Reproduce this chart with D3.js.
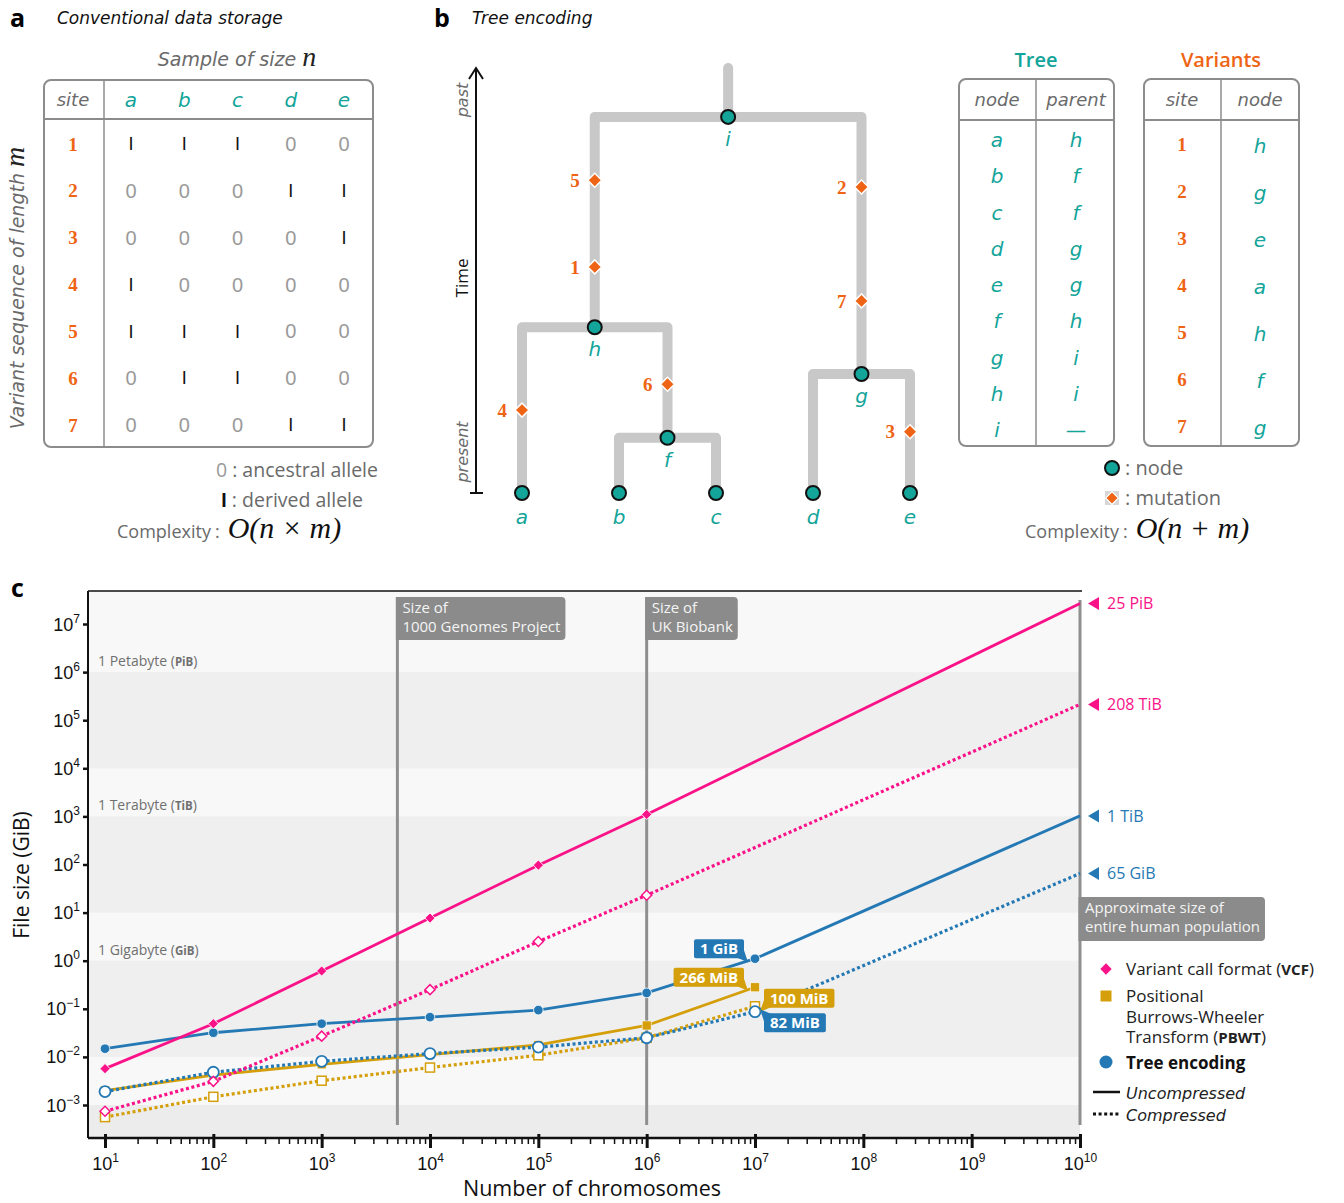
<!DOCTYPE html>
<html><head><meta charset="utf-8">
<script src="https://cdn.jsdelivr.net/npm/d3@7"></script>
<style>
body{margin:0;background:#fff;}
svg{display:block;font-family:"Open Sans","Liberation Sans",Arial,sans-serif;}
.it{font-family:"DejaVu Sans","Liberation Sans",sans-serif;font-style:italic;}
</style></head><body>
<svg id="fig" width="1344" height="1203"></svg>
<script>
// ================= DATA =================
// Panel a: genotype matrix
const samples = ["a","b","c","d","e"];
const sites = [1,2,3,4,5,6,7];
const genotypes = [
  [1,1,1,0,0],
  [0,0,0,1,1],
  [0,0,0,0,1],
  [1,0,0,0,0],
  [1,1,1,0,0],
  [0,1,1,0,0],
  [0,0,0,1,1]
];
// Panel b: tree and variants tables
const treeNodes   = ["a","b","c","d","e","f","g","h","i"];
const treeParents = ["h","f","f","g","g","h","i","i","—"];
const nodeTimes   = [0,0,0,0,0,1.3,2.8,3.9,8.85];
const rootStemTop = 10;
const variantSites = [1,2,3,4,5,6,7];
const variantNodes = ["h","g","e","a","h","f","g"];
const mutationTimes = [5.32,7.2,1.44,1.95,7.36,2.56,4.52];
// Panel c: file sizes (GiB) vs number of chromosomes
const chromosomes = [1e1,1e2,1e3,1e4,1e5,1e6,1e7];
const vcfUncompressed  = [0.0057,0.049,0.61,7.7,97,1100];
const vcfCompressed    = [0.00074,0.0031,0.027,0.25,2.5,23];
const pbwtUncompressed = [0.0020,0.0042,0.0070,0.0112,0.0177,0.045,0.28];
const pbwtCompressed   = [0.00056,0.00148,0.0032,0.0060,0.0108,0.025,0.113];
const treeUncompressed = [0.0148,0.0318,0.049,0.067,0.094,0.214,1.1];
const treeCompressed   = [0.0019,0.0048,0.0081,0.0117,0.016,0.025,0.087];
const populationSize = 1e10;
const vcfUncompressedPop = 2.68e7;   // 25 PiB
const vcfCompressedPop   = 2.13e5;   // 208 TiB
const treeUncompressedPop = 1024;    // 1 TiB
const treeCompressedPop  = 65;       // 65 GiB
const endLabels = ["25 PiB","208 TiB","1 TiB","65 GiB"];
const calloutLabels = ["1 GiB","266 MiB","100 MiB","82 MiB"];
const xTickExponents = [1,2,3,4,5,6,7,8,9,10];
const yTickExponents = [-3,-2,-1,0,1,2,3,4,5,6,7];
const unitLines = [1e6,1e3,1e0];
const unitNames = ["1 Petabyte","1 Terabyte","1 Gigabyte"];
const unitAbbr  = ["PiB","TiB","GiB"];
const refSizes  = [5000,1e6];
const refLabels = [["Size of","1000 Genomes Project"],["Size of","UK Biobank"]];

// ================= STYLE =================
const TEAL="#13a49a", ORANGE="#ee6414", PINK="#fa1289", BLUE="#2479b5", GOLD="#d49f0a";
const BOXGRAY="#8b8b8b", TXT="#6a6a6a";
const SERIF='"Liberation Serif","DejaVu Serif",serif';
const ARIAL='"Liberation Sans",Arial,sans-serif';
const svg = d3.select("#fig");

function diamondPath(s){ return d3.symbol(d3.symbolSquare, s)(); }

// ================= PANEL A =================
const pa = svg.append("g");
pa.append("text").attr("x",10).attr("y",27).attr("font-size",25).attr("font-weight","bold").text("a");
pa.append("text").attr("class","it").attr("x",57).attr("y",24).attr("font-size",17).attr("fill","#111").text("Conventional data storage");

const colX = d3.scalePoint().domain(samples).range([131,344]);
const siteX = 73;
const rowY = d3.scalePoint().domain(sites).range([144,425]);

const st = pa.append("text").attr("x",237).attr("y",60).attr("dy","0.35em").attr("text-anchor","middle");
st.append("tspan").attr("class","it").attr("font-size",19).attr("fill",TXT).text("Sample of size ");
st.append("tspan").attr("font-size",28).attr("font-style","italic").attr("font-family",SERIF).attr("fill","#222").text("n");

const vt = pa.append("text").attr("transform","translate(18,288) rotate(-90)").attr("dy","0.35em").attr("text-anchor","middle");
vt.append("tspan").attr("class","it").attr("font-size",19).attr("fill",TXT).text("Variant sequence of length ");
vt.append("tspan").attr("font-size",28).attr("font-style","italic").attr("font-family",SERIF).attr("fill","#222").text("m");

pa.append("rect").attr("x",44).attr("y",80).attr("width",329).attr("height",367).attr("rx",7)
  .attr("fill","none").attr("stroke","#8c8c8c").attr("stroke-width",2);
pa.append("line").attr("x1",44).attr("x2",373).attr("y1",119).attr("y2",119).attr("stroke","#8c8c8c").attr("stroke-width",2);
pa.append("line").attr("x1",104).attr("x2",104).attr("y1",80).attr("y2",447).attr("stroke","#8c8c8c").attr("stroke-width",1.5);
pa.append("text").attr("class","it").attr("x",siteX).attr("y",100).attr("dy","0.35em").attr("text-anchor","middle")
  .attr("font-size",18).attr("fill",TXT).text("site");
pa.selectAll(".hdr").data(samples).join("text").attr("class","it").attr("x",d=>colX(d)).attr("y",100).attr("dy","0.35em")
  .attr("text-anchor","middle").attr("font-size",20).attr("fill",TEAL).text(d=>d);
pa.selectAll(".sitenum").data(sites).join("text").attr("x",siteX).attr("y",d=>rowY(d)).attr("dy","0.35em")
  .attr("text-anchor","middle").attr("font-size",19).attr("font-weight","bold").attr("font-family",SERIF)
  .attr("fill",ORANGE).text(d=>d);
genotypes.forEach((row,i)=>{
  pa.selectAll(".g"+i).data(row).join("text").attr("x",(d,j)=>colX(samples[j])).attr("y",rowY(sites[i])).attr("dy","0.35em")
    .attr("text-anchor","middle").attr("font-size",d=>d?18:20).attr("font-family",ARIAL)
    .attr("fill",d=>d?"#111":"#9a9a9a").text(d=>d?"I":"0");
});
const l1 = pa.append("text").attr("x",378).attr("y",470).attr("dy","0.35em").attr("text-anchor","end").attr("font-size",19.5);
l1.append("tspan").attr("fill","#9a9a9a").text("0");
l1.append("tspan").attr("fill",TXT).text(" : ancestral allele");
const l2 = pa.append("text").attr("x",363).attr("y",500).attr("dy","0.35em").attr("text-anchor","end").attr("font-size",19.5);
l2.append("tspan").attr("fill","#111").attr("font-weight","bold").attr("font-family",ARIAL).text("I");
l2.append("tspan").attr("fill",TXT).text(" : derived allele");
const c1 = pa.append("text").attr("x",117).attr("y",532).attr("dy","0.35em").attr("font-size",18);
c1.append("tspan").attr("fill",TXT).text("Complexity");
c1.append("tspan").attr("fill",TXT).attr("dx",4).text(":");
c1.append("tspan").attr("dx",8).attr("font-family",SERIF).attr("font-size",30).attr("font-style","italic").attr("fill","#111").text("O(n × m)");

// ================= PANEL B =================
const pb = svg.append("g");
pb.append("text").attr("x",434).attr("y",27).attr("font-size",25).attr("font-weight","bold").text("b");
pb.append("text").attr("class","it").attr("x",472).attr("y",24).attr("font-size",17).attr("fill","#111").text("Tree encoding");

const leafX = d3.scalePoint().domain(samples).range([522,910]);
const tY = d3.scaleLinear().domain([0,rootStemTop]).range([493,68]);

// time arrow
pb.append("line").attr("x1",476).attr("x2",476).attr("y1",tY(0)).attr("y2",tY(rootStemTop)).attr("stroke","#111").attr("stroke-width",2);
pb.append("path").attr("d",`M469,${tY(rootStemTop)+11} L476,${tY(rootStemTop)} L483,${tY(rootStemTop)+11}`)
  .attr("fill","none").attr("stroke","#111").attr("stroke-width",2);
pb.append("line").attr("x1",470).attr("x2",483).attr("y1",tY(0)).attr("y2",tY(0)).attr("stroke","#111").attr("stroke-width",2);
[["past",100,TXT,true],["Time",278,"#111",false],["present",452,TXT,true]].forEach(([t,yy,c,s])=>{
  pb.append("text").attr("class",s?"it":null).attr("transform",`translate(462,${yy}) rotate(-90)`).attr("dy","0.35em").attr("text-anchor","middle")
    .attr("font-size",s?16:17).attr("fill",c).text(t);
});

// compute node positions
const pos = {};
treeNodes.forEach((n,i)=>{ pos[n] = {x: samples.includes(n)?leafX(n):null, y: tY(nodeTimes[i])}; });
const order = treeNodes.map((n,i)=>i).filter(i=>!samples.includes(treeNodes[i])).sort((a,b)=>nodeTimes[a]-nodeTimes[b]);
const children = {};
treeNodes.forEach((n,i)=>{ const p=treeParents[i]; if(pos[p]){ (children[p]=children[p]||[]).push(n);} });
order.forEach(i=>{ const n=treeNodes[i]; pos[n].x = d3.mean(children[n],c=>pos[c].x); });

const edgeG = pb.append("g").attr("fill","none").attr("stroke","#c8c8c8").attr("stroke-width",10)
  .attr("stroke-linejoin","round").attr("stroke-linecap","round");
Object.keys(children).forEach(p=>{
  const cs = children[p].slice().sort((a,b)=>pos[a].x-pos[b].x);
  const A=pos[cs[0]], B=pos[cs[1]], P=pos[p];
  edgeG.append("path").attr("d",`M${A.x},${A.y} L${A.x},${P.y} L${B.x},${P.y} L${B.x},${B.y}`);
});
const rootName = treeNodes[treeParents.indexOf("—")];
edgeG.append("path").attr("d",`M${pos[rootName].x},${pos[rootName].y} L${pos[rootName].x},${tY(rootStemTop)}`);

// mutations
variantSites.forEach((s,k)=>{
  const nx = pos[variantNodes[k]].x, my = tY(mutationTimes[k]);
  pb.append("path").attr("d",diamondPath(98)).attr("transform",`translate(${nx},${my}) rotate(45)`)
    .attr("fill",ORANGE).attr("stroke","#fff").attr("stroke-width",1.5);
  pb.append("text").attr("x",nx-15).attr("y",my).attr("dy","0.35em").attr("text-anchor","end")
    .attr("font-size",19).attr("font-weight","bold").attr("font-family",SERIF).attr("fill",ORANGE).text(s);
});
// nodes
treeNodes.forEach(n=>{
  pb.append("circle").attr("cx",pos[n].x).attr("cy",pos[n].y).attr("r",7).attr("fill",TEAL).attr("stroke","#111").attr("stroke-width",2);
  const isLeaf = samples.includes(n);
  pb.append("text").attr("class","it").attr("x",pos[n].x).attr("y",pos[n].y+(isLeaf?24:22)).attr("dy","0.35em").attr("text-anchor","middle")
    .attr("font-size",20).attr("fill",TEAL).text(n);
});

// tables
function tableFrame(g,x0,w,div){
  g.append("rect").attr("x",x0).attr("y",79).attr("width",w).attr("height",367).attr("rx",7)
    .attr("fill","none").attr("stroke","#8c8c8c").attr("stroke-width",2);
  g.append("line").attr("x1",x0).attr("x2",x0+w).attr("y1",120).attr("y2",120).attr("stroke","#8c8c8c").attr("stroke-width",2);
  g.append("line").attr("x1",div).attr("x2",div).attr("y1",79).attr("y2",446).attr("stroke","#8c8c8c").attr("stroke-width",1.5);
}
tableFrame(pb,959,155,1036);
tableFrame(pb,1144,155,1221);
pb.append("text").attr("x",1036).attr("y",60).attr("dy","0.35em").attr("text-anchor","middle").attr("font-size",20).attr("font-weight",600).attr("fill",TEAL).text("Tree");
pb.append("text").attr("x",1221).attr("y",60).attr("dy","0.35em").attr("text-anchor","middle").attr("font-size",20).attr("font-weight",600).attr("fill",ORANGE).text("Variants");
[["node",997],["parent",1076],["site",1182],["node",1260]].forEach(([t,xx])=>{
  pb.append("text").attr("class","it").attr("x",xx).attr("y",100).attr("dy","0.35em").attr("text-anchor","middle")
    .attr("font-size",18).attr("fill",TXT).text(t);
});
const rowT = d3.scalePoint().domain(treeNodes).range([140,430]);
treeNodes.forEach((n,i)=>{
  pb.append("text").attr("class","it").attr("x",997).attr("y",rowT(n)).attr("dy","0.35em").attr("text-anchor","middle")
    .attr("font-size",20).attr("fill",TEAL).text(n);
  pb.append("text").attr("class",treeParents[i]==="—"?null:"it").attr("x",1076).attr("y",rowT(n)).attr("dy","0.35em").attr("text-anchor","middle")
    .attr("font-size",20).attr("fill",TEAL).text(treeParents[i]);
});
const rowV = d3.scalePoint().domain(variantSites).range([144,426]);
variantSites.forEach((s,k)=>{
  pb.append("text").attr("x",1182).attr("y",rowV(s)).attr("dy","0.35em").attr("text-anchor","middle")
    .attr("font-size",19).attr("font-weight","bold").attr("font-family",SERIF).attr("fill",ORANGE).text(s);
  pb.append("text").attr("class","it").attr("x",1260).attr("y",rowV(s)+2).attr("dy","0.35em").attr("text-anchor","middle")
    .attr("font-size",20).attr("fill",TEAL).text(variantNodes[k]);
});
// legend b
pb.append("circle").attr("cx",1112).attr("cy",468).attr("r",7).attr("fill",TEAL).attr("stroke","#111").attr("stroke-width",2);
pb.append("text").attr("x",1125).attr("y",468).attr("dy","0.35em").attr("font-size",20).attr("fill",TXT).text(": node");
pb.append("rect").attr("x",1105).attr("y",491).attr("width",14).attr("height",14).attr("fill","#d6d6d6");
pb.append("path").attr("d",diamondPath(80)).attr("transform","translate(1112,498) rotate(45)").attr("fill",ORANGE).attr("stroke","#fff").attr("stroke-width",1.2);
pb.append("text").attr("x",1125).attr("y",498).attr("dy","0.35em").attr("font-size",20).attr("fill",TXT).text(": mutation");
const c2 = pb.append("text").attr("x",1025).attr("y",532).attr("dy","0.35em").attr("font-size",18);
c2.append("tspan").attr("fill",TXT).text("Complexity");
c2.append("tspan").attr("fill",TXT).attr("dx",4).text(":");
c2.append("tspan").attr("dx",8).attr("font-family",SERIF).attr("font-size",30).attr("font-style","italic").attr("fill","#111").text("O(n + m)");

// ================= PANEL C =================
const X0=88, X1=1080, Y0=591, Y1=1138;
const x = d3.scaleLog().domain([1e1,1e10]).range([105,1080]);
const y = d3.scaleLog().domain([1e-3,1e7]).range([1105,624]);
const pc = svg.append("g");
pc.append("text").attr("x",11).attr("y",597).attr("font-size",25).attr("font-weight","bold").text("c");

// background bands
pc.append("rect").attr("x",X0).attr("y",Y0).attr("width",X1-X0).attr("height",Y1-Y0).attr("fill","#f8f8f8");
const darkBands = [[1e4,1e6],[1e1,1e3],[1e-2,1e0]];
darkBands.forEach(([lo,hi])=>{
  pc.append("rect").attr("x",X0).attr("y",y(hi)).attr("width",X1-X0).attr("height",y(lo)-y(hi)).attr("fill","#efefef");
});
pc.append("rect").attr("x",X0).attr("y",y(1e-3)).attr("width",X1-X0).attr("height",Y1-y(1e-3)).attr("fill","#ececec");

// unit labels
unitLines.forEach((v,i)=>{
  const t = pc.append("text").attr("x",98).attr("y",y(v)-6).attr("font-size",14).attr("fill","#707070");
  t.append("tspan").text(unitNames[i]+" (");
  t.append("tspan").attr("font-size",11.5).attr("font-weight","bold").text(unitAbbr[i]);
  t.append("tspan").text(")");
});

// reference lines with labels
function refLine(n, lines, boxY, boxH){
  const xx = x(n);
  pc.append("line").attr("x1",xx).attr("x2",xx).attr("y1",boxY).attr("y2",1125).attr("stroke","#8f8f8f").attr("stroke-width",3);
  const g = pc.append("g");
  const rect = g.append("path");
  const texts = lines.map((l,i)=>g.append("text").attr("x",xx+5).attr("y",boxY+14+i*19).attr("dy","0.1em")
    .attr("font-size",15).attr("fill","#f4f4f4").text(l));
  const w = d3.max(texts,t=>t.node().getComputedTextLength())+10;
  const r=4;
  rect.attr("d",`M${xx-1.5},${boxY} H${xx+w-r} Q${xx+w},${boxY} ${xx+w},${boxY+r} V${boxY+boxH-r} Q${xx+w},${boxY+boxH} ${xx+w-r},${boxY+boxH} H${xx-1.5} Z`)
    .attr("fill",BOXGRAY);
}
refSizes.forEach((n,i)=>refLine(n, refLabels[i], 597, 43));
refLine(populationSize, ["Approximate size of","entire human population"], 897, 44);
pc.append("line").attr("x1",x(populationSize)).attr("x2",x(populationSize)).attr("y1",600).attr("y2",897).attr("stroke","#8f8f8f").attr("stroke-width",3);

// axes
const xMajor = xTickExponents.map(k=>Math.pow(10,k));
const xMinor = [];
xTickExponents.slice(0,-1).forEach(k=>{ for(let m=2;m<=9;m++) xMinor.push(m*Math.pow(10,k)); });
const gxMinor = pc.append("g").attr("transform",`translate(0,${Y1})`)
  .call(d3.axisBottom(x).tickValues(xMinor).tickSize(6).tickFormat(""));
gxMinor.select(".domain").remove();
gxMinor.selectAll(".tick line").attr("stroke","#111").attr("stroke-width",1.5);
const gx = pc.append("g").attr("transform",`translate(0,${Y1})`)
  .call(d3.axisBottom(x).tickValues(xMajor).tickSize(10).tickFormat(""));
gx.select(".domain").remove();
gx.selectAll(".tick line").attr("stroke","#111").attr("stroke-width",3).attr("y1",-4);
gx.selectAll(".tick").each(function(d){
  const e = Math.round(Math.log10(d));
  const t = d3.select(this).append("text").attr("y",32).attr("fill","#111").attr("font-size",18)
    .attr("font-family",ARIAL).attr("text-anchor","middle");
  t.append("tspan").text("10");
  t.append("tspan").attr("dy",-8).attr("font-size",12).text(e);
});
const yMajor = yTickExponents.map(k=>Math.pow(10,k));
const gy = pc.append("g").attr("transform",`translate(${X0},0)`)
  .call(d3.axisLeft(y).tickValues(yMajor).tickSize(5).tickFormat(""));
gy.select(".domain").remove();
gy.selectAll(".tick line").attr("stroke","#111").attr("stroke-width",2.5);
gy.selectAll(".tick").each(function(d){
  const e = Math.round(Math.log10(d));
  const t = d3.select(this).append("text").attr("x",-8).attr("y",6).attr("fill","#111").attr("font-size",18)
    .attr("font-family",ARIAL).attr("text-anchor","end");
  t.append("tspan").text("10");
  t.append("tspan").attr("dy",-8).attr("font-size",12).text(String(e).replace("-","−"));
});
// frame
pc.append("line").attr("x1",X0).attr("x2",X1+2).attr("y1",Y0).attr("y2",Y0).attr("stroke","#111").attr("stroke-width",1.5);
pc.append("line").attr("x1",X0).attr("x2",X0).attr("y1",Y0).attr("y2",Y1).attr("stroke","#111").attr("stroke-width",2);
pc.append("line").attr("x1",X0).attr("x2",X1+1).attr("y1",Y1).attr("y2",Y1).attr("stroke","#111").attr("stroke-width",2.5);

pc.append("text").attr("transform","translate(22,875) rotate(-90)").attr("dy","0.35em").attr("text-anchor","middle")
  .attr("font-size",21).attr("fill","#111").text("File size (GiB)");
pc.append("text").attr("x",592).attr("y",1196).attr("text-anchor","middle").attr("font-size",21.5).attr("fill","#111").text("Number of chromosomes");

// series
const series = [
  {vals:pbwtCompressed, ext:null, color:GOLD, comp:true, mk:"square"},
  {vals:pbwtUncompressed, ext:null, color:GOLD, comp:false, mk:"square"},
  {vals:treeCompressed, ext:treeCompressedPop, color:BLUE, comp:true, mk:"circle"},
  {vals:treeUncompressed, ext:treeUncompressedPop, color:BLUE, comp:false, mk:"circle"},
  {vals:vcfCompressed, ext:vcfCompressedPop, color:PINK, comp:true, mk:"diamond"},
  {vals:vcfUncompressed, ext:vcfUncompressedPop, color:PINK, comp:false, mk:"diamond"}
];
const line = d3.line().x(d=>x(d[0])).y(d=>y(d[1]));
series.forEach(s=>{
  const pts = s.vals.map((v,i)=>[chromosomes[i],v]);
  const all = s.ext!=null ? pts.concat([[populationSize,s.ext]]) : pts;
  pc.append("path").attr("d",line(all)).attr("fill","none").attr("stroke",s.color)
    .attr("stroke-width",s.comp?3.2:2.8).attr("stroke-dasharray",s.comp?"3,2.6":null);
});
series.forEach(s=>{
  s.vals.forEach((v,i)=>{
    const cx=x(chromosomes[i]), cy=y(v);
    const fill = s.comp ? "#fff" : s.color;
    if(s.mk==="circle"){
      pc.append("circle").attr("cx",cx).attr("cy",cy).attr("r",s.comp?5.5:4.8).attr("fill",fill)
        .attr("stroke",s.comp?s.color:"#fff").attr("stroke-width",s.comp?1.8:0.8);
    } else if(s.mk==="square"){
      pc.append("rect").attr("x",cx-4.5).attr("y",cy-4.5).attr("width",9).attr("height",9).attr("fill",fill)
        .attr("stroke",s.comp?s.color:"#fff").attr("stroke-width",s.comp?1.5:0.6);
    } else {
      pc.append("path").attr("d",diamondPath(s.comp?50:52)).attr("transform",`translate(${cx},${cy}) rotate(45)`)
        .attr("fill",fill).attr("stroke",s.comp?s.color:"#fff").attr("stroke-width",s.comp?1.5:0.8);
    }
  });
});

// callouts at 10^7
const last = chromosomes.length-1;
const callouts = [
  {text:calloutLabels[0], color:BLUE, v:treeUncompressed[last], side:"left", off:-10},
  {text:calloutLabels[1], color:GOLD, v:pbwtUncompressed[last], side:"left", off:-10},
  {text:calloutLabels[2], color:GOLD, v:pbwtCompressed[last], side:"right", off:-8},
  {text:calloutLabels[3], color:BLUE, v:treeCompressed[last], side:"right", off:11}
];
callouts.forEach(c=>{
  const px = x(chromosomes[last]), py = y(c.v);
  const g = pc.append("g");
  const bg = g.append("rect");
  const tail = g.append("path");
  const t = g.append("text").attr("font-size",15).attr("font-weight","bold").attr("fill","#fff").attr("text-anchor","middle").text(c.text);
  const w = t.node().getComputedTextLength()+12, h=19;
  const cy = py + c.off;
  const bx = c.side==="left" ? px-11-w : px+9;
  bg.attr("x",bx).attr("y",cy-h/2).attr("width",w).attr("height",h).attr("rx",2).attr("fill",c.color);
  t.attr("x",bx+w/2).attr("y",cy).attr("dy","0.36em");
  let d;
  if(c.side==="left") d = `M${bx+w-8},${cy+h/2-1} L${bx+w},${cy+h/2-8} L${bx+w+4},${cy+h/2+4} Z`;
  else if(c.off<0) d = `M${bx},${cy+h/2-8} L${bx+8},${cy+h/2-1} L${bx-4},${cy+h/2+4} Z`;
  else d = `M${bx},${cy-h/2+8} L${bx+8},${cy-h/2+1} L${bx-4},${cy-h/2-4} Z`;
  tail.attr("d",d).attr("fill",c.color);
});

// end labels at population size
const ends = [
  {v:vcfUncompressedPop, color:PINK},{v:vcfCompressedPop, color:PINK},
  {v:treeUncompressedPop, color:BLUE},{v:treeCompressedPop, color:BLUE}
];
ends.forEach((e,i)=>{
  const yy = y(e.v), xx = x(populationSize);
  pc.append("path").attr("d",`M${xx+8},${yy} L${xx+19},${yy-6.5} L${xx+19},${yy+6.5} Z`).attr("fill",e.color);
  pc.append("text").attr("x",xx+27).attr("y",yy).attr("dy","0.36em").attr("font-size",16).attr("fill",e.color).text(endLabels[i]);
});

// legend
const LX=1106, TX=1126;
pc.append("path").attr("d",diamondPath(64)).attr("transform","translate(1106,969) rotate(45)").attr("fill",PINK);
const lt1 = pc.append("text").attr("x",TX).attr("y",969).attr("dy","0.36em").attr("font-size",17).attr("fill","#222");
lt1.append("tspan").text("Variant call format (");
lt1.append("tspan").attr("font-weight","bold").attr("font-size",15).text("VCF");
lt1.append("tspan").text(")");
pc.append("rect").attr("x",LX-5.5).attr("y",990.5).attr("width",11).attr("height",11).attr("fill",GOLD);
pc.append("text").attr("x",TX).attr("y",996).attr("dy","0.36em").attr("font-size",17).attr("fill","#222").text("Positional");
pc.append("text").attr("x",TX).attr("y",1016.5).attr("dy","0.36em").attr("font-size",17).attr("fill","#222").text("Burrows-Wheeler");
const lt3 = pc.append("text").attr("x",TX).attr("y",1037).attr("dy","0.36em").attr("font-size",17).attr("fill","#222");
lt3.append("tspan").text("Transform (");
lt3.append("tspan").attr("font-weight","bold").attr("font-size",15).text("PBWT");
lt3.append("tspan").text(")");
pc.append("circle").attr("cx",LX).attr("cy",1062).attr("r",6.5).attr("fill",BLUE);
pc.append("text").attr("x",TX).attr("y",1063).attr("dy","0.36em").attr("font-size",17).attr("font-weight","bold").attr("fill","#111").text("Tree encoding");
pc.append("line").attr("x1",1093).attr("x2",1120).attr("y1",1092).attr("y2",1092).attr("stroke","#111").attr("stroke-width",2.5);
pc.append("text").attr("class","it").attr("x",TX).attr("y",1093).attr("dy","0.36em").attr("font-size",16).attr("fill","#222").text("Uncompressed");
pc.append("line").attr("x1",1093).attr("x2",1120).attr("y1",1114).attr("y2",1114).attr("stroke","#111").attr("stroke-width",3).attr("stroke-dasharray","3,2.6");
pc.append("text").attr("class","it").attr("x",TX).attr("y",1115).attr("dy","0.36em").attr("font-size",16).attr("fill","#222").text("Compressed");
</script>
</body></html>
